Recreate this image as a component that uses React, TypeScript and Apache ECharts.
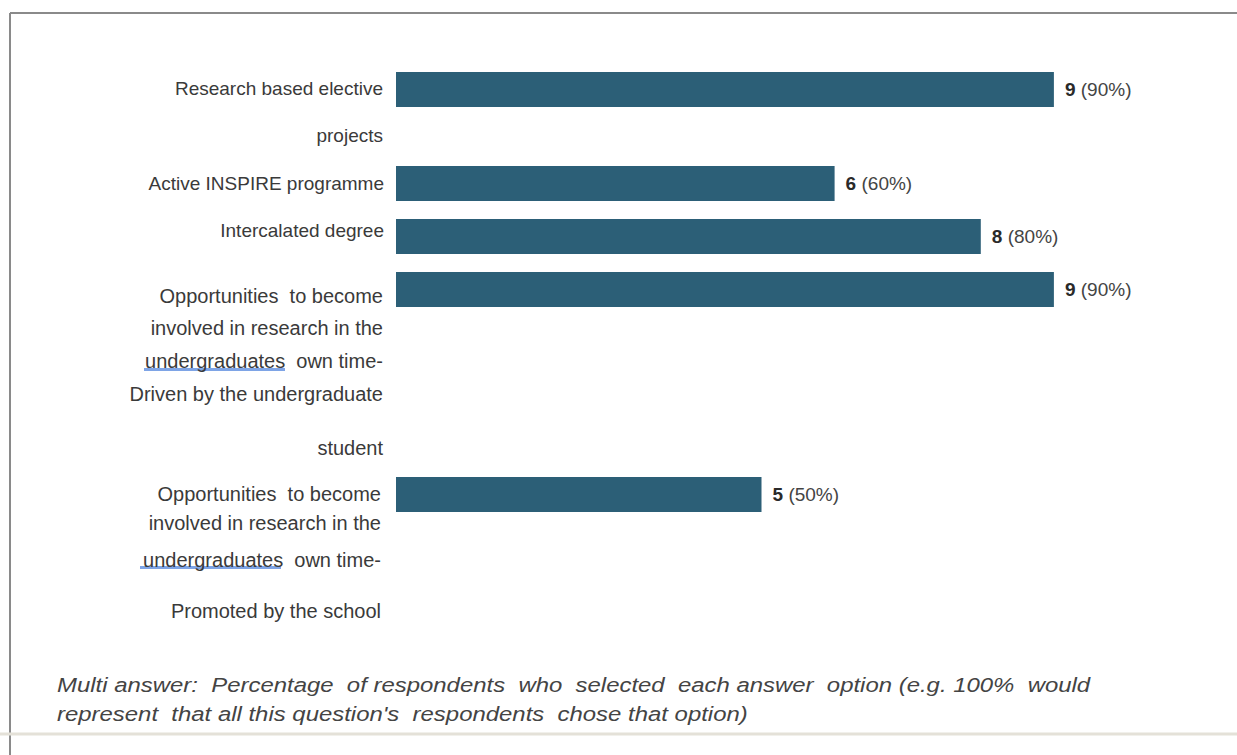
import React, { useEffect, useRef } from 'react';
import * as echarts from 'echarts';

// ---- data ----
const categories: string[] = [
  'Research based elective\nprojects',
  'Active INSPIRE programme',
  'Intercalated degree',
  'Opportunities  to become\ninvolved in research in the\nundergraduates  own time-\nDriven by the undergraduate\nstudent',
  'Opportunities  to become\ninvolved in research in the\nundergraduates  own time-\nPromoted by the school',
];
const counts: number[] = [9, 6, 8, 9, 5];
const percents: number[] = [90, 60, 80, 90, 50];
const footnoteLines: string[] = [
  "Multi answer:  Percentage  of respondents  who  selected  each answer  option (e.g. 100%  would",
  "represent  that all this question's  respondents  chose that option)",
];

// ---- layout (not data) ----
const barTops = [72, 166, 219, 272, 477];
const barHeight = 35;
const gridLeft = 396;
const gridWidth = 731;
// offsets of each label line's centre from the bar centre
const lineOffsets: number[][] = [
  [-1, 46],
  [-0.5],
  [-6.5],
  [6.5, 38.5, 71.5, 104.5, 158.5],
  [-0.5, 28.5, 65.5, 116.5],
];
const labelFontSizes = [19, 19, 19, 20, 20];
const labelMargins = [13, 12, 12, 13, 15];
const BAR_COLOR = '#2c5f77';
const LABEL_FONT = 'Liberation Sans, Arial, sans-serif';

function buildLabel(text: string, offsets: number[], fontSize: number) {
  const lines = text.split('\n');
  const hs: number[] = [24];
  for (let k = 1; k < offsets.length; k++) {
    hs.push(2 * (offsets[k] - offsets[k - 1]) - hs[k - 1]);
  }
  const H = hs.reduce((a, b) => a + b, 0);
  const diff = 2 * offsets[0] + H - hs[0];
  const st = diff > 0 ? diff : 0;
  const sb = diff < 0 ? -diff : 0;
  const rich: Record<string, any> = {};
  const parts: string[] = [];
  if (st > 0) {
    rich.st = { lineHeight: st, fontSize: 2, align: 'right' };
    parts.push('{st|\u00a0}');
  }
  lines.forEach((ln, k) => {
    rich['l' + k] = {
      lineHeight: hs[k],
      fontSize,
      fontFamily: LABEL_FONT,
      color: '#3a3a3a',
      align: 'right',
    };
    parts.push('{l' + k + '|' + ln + '}');
  });
  if (sb > 0) {
    rich.sb = { lineHeight: sb, fontSize: 2, align: 'right' };
    parts.push('{sb|\u00a0}');
  }
  return { str: parts.join('\n'), rich };
}

export default function App() {
  const ref = useRef<HTMLDivElement>(null);
  useEffect(() => {
    document.body.style.margin = '0';
    if (!ref.current) return;
    const chart = echarts.init(ref.current, undefined, { renderer: 'svg' });

    const grids: any[] = [];
    const xAxes: any[] = [];
    const yAxes: any[] = [];
    const series: any[] = [];
    categories.forEach((cat, i) => {
      const lab = buildLabel(cat, lineOffsets[i], labelFontSizes[i]);
      grids.push({ left: gridLeft, width: gridWidth, top: barTops[i], height: barHeight, containLabel: false });
      xAxes.push({ type: 'value', gridIndex: i, min: 0, max: 10, show: false });
      yAxes.push({
        type: 'category',
        gridIndex: i,
        data: [cat],
        axisLine: { show: false },
        axisTick: { show: false },
        splitLine: { show: false },
        axisLabel: {
          margin: labelMargins[i],
          formatter: () => lab.str,
          rich: lab.rich,
          align: 'right',
        },
      });
      series.push({
        type: 'bar',
        xAxisIndex: i,
        yAxisIndex: i,
        data: [counts[i]],
        barWidth: '100%',
        itemStyle: { color: BAR_COLOR },
        label: {
          show: true,
          position: 'right',
          distance: 11,
          formatter: () => '{b|' + counts[i] + '} {n|(' + percents[i] + '%)}',
          rich: {
            b: { fontWeight: 'bold', fontSize: 19, color: '#2a2a2a', fontFamily: LABEL_FONT },
            n: { fontSize: 19, color: '#444', fontFamily: LABEL_FONT, padding: [0, 0, 0, 2] },
          },
        },
      });
    });

    chart.setOption({
      animation: false,
      backgroundColor: '#ffffff',
      grid: grids,
      xAxis: xAxes,
      yAxis: yAxes,
      series,
      graphic: [
        { type: 'line', shape: { x1: 10, y1: 13, x2: 1237, y2: 13 }, style: { stroke: '#8a8a8a', lineWidth: 2 } },
        { type: 'line', shape: { x1: 10, y1: 13, x2: 10, y2: 755 }, style: { stroke: '#8a8a8a', lineWidth: 2 } },
        { type: 'line', shape: { x1: 0, y1: 734, x2: 1237, y2: 734 }, style: { stroke: '#e4e1d8', lineWidth: 3 } },
        { type: 'rect', shape: { x: 144, y: 368, width: 141, height: 3 }, style: { fill: '#7ea4e6' } },
        { type: 'rect', shape: { x: 140, y: 566, width: 141, height: 3 }, style: { fill: '#7ea4e6' } },
        ...footnoteLines.map((t, k) => ({
          type: 'text',
          x: 57,
          y: 685 + k * 29,
          scaleX: 1.14,
          style: {
            text: t,
            fontSize: 21,
            fontStyle: 'italic',
            fontFamily: LABEL_FONT,
            fill: '#444',
            align: 'left',
            verticalAlign: 'middle',
          },
        })),
      ],
    });
    return () => chart.dispose();
  }, []);
  return <div ref={ref} style={{ width: 1237, height: 755 }} />;
}
